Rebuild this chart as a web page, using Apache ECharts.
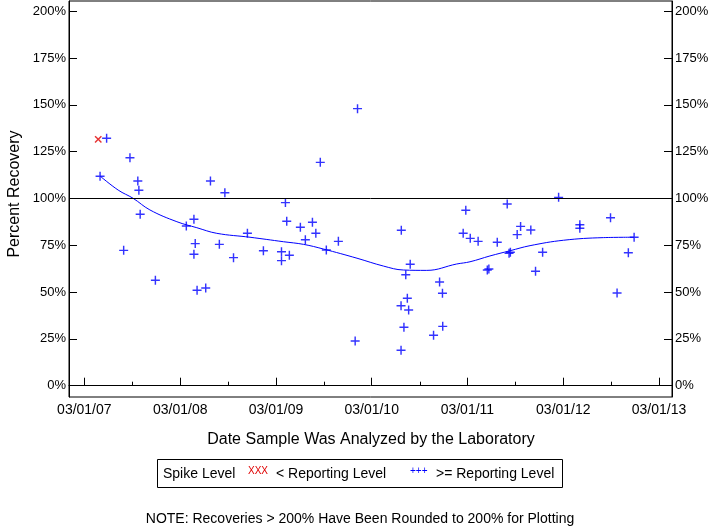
<!DOCTYPE html>
<html>
<head>
<meta charset="utf-8">
<script src="https://cdn.jsdelivr.net/npm/echarts@6/dist/echarts.min.js"></script>
<style>
  html, body { margin: 0; padding: 0; background: #fff; }
  #chart { width: 720px; height: 528px; }
</style>
</head>
<body>
<div id="chart"></div>
<script>
// spike recoveries below the reporting level (red x)
var lowDates = ['2007-04-23'];
var lowValues = [131.6];

// spike recoveries at or above the reporting level (blue +)
var highDates = [
  '2007-04-30', '2007-05-25', '2007-07-29', '2007-08-22', '2007-09-21', '2007-09-25', '2007-09-30', '2007-11-27',
  '2008-03-24', '2008-04-22', '2008-04-22', '2008-04-27', '2008-05-04', '2008-06-06', '2008-06-24', '2008-07-28',
  '2008-08-18', '2008-09-20', '2008-11-12', '2009-01-12', '2009-03-22', '2009-03-22', '2009-04-06', '2009-04-11',
  '2009-04-21', '2009-06-02', '2009-06-21', '2009-07-18', '2009-07-31', '2009-08-17', '2009-09-09', '2009-10-25',
  '2009-12-28', '2010-01-06', '2010-06-21', '2010-06-21', '2010-06-22', '2010-07-02', '2010-07-09', '2010-07-15',
  '2010-07-20', '2010-07-26', '2010-10-23', '2010-11-15', '2010-11-26', '2010-11-27', '2011-02-13', '2011-02-23',
  '2011-03-12', '2011-04-11', '2011-05-16', '2011-05-22', '2011-06-23', '2011-07-31', '2011-08-07', '2011-08-12',
  '2011-09-07', '2011-09-20', '2011-10-29', '2011-11-16', '2011-12-13', '2012-02-12', '2012-05-03', '2012-05-03',
  '2012-08-28', '2012-09-22', '2012-11-04', '2012-11-26'
];
var highValues = [
  111.9, 132.2, 72.3, 121.8, 109.3, 104.4, 91.6, 56.3,
  85.3, 88.9, 70.2, 75.9, 51.0, 52.2, 109.3, 75.5,
  103.1, 68.4, 81.4, 72.1, 71.6, 66.8, 97.8, 87.8,
  69.7, 84.6, 78.0, 87.3, 81.4, 119.3, 72.5, 77.1,
  23.9, 148.0, 18.9, 42.7, 83.0, 31.2, 59.3, 46.7,
  40.4, 64.9, 26.9, 55.4, 49.4, 31.7, 81.4, 93.7,
  78.7, 77.1, 61.8, 62.3, 76.6, 97.1, 70.7, 71.3,
  80.7, 85.1, 83.2, 61.1, 71.3, 100.6, 86.0, 84.1,
  89.7, 49.5, 71.0, 79.3
];

// smoothed trend line
var trendDates = [
  '2007-04-30', '2007-07-08', '2007-09-03', '2007-11-06', '2008-02-17', '2008-05-03', '2008-07-18', '2008-11-22',
  '2009-03-30', '2009-06-14', '2009-08-29', '2010-01-04', '2010-04-15', '2010-06-30', '2010-09-27', '2011-01-19',
  '2011-03-11', '2011-05-26', '2011-08-11', '2011-10-26', '2012-03-02', '2012-08-01', '2012-11-26'
];
var trendValues = [
  112.0, 104.5, 100.1, 93.9, 87.6, 84.4, 81.4, 79.3,
  76.9, 75.5, 73.0, 68.1, 63.9, 61.8, 61.6, 65.0,
  66.2, 69.3, 72.1, 74.8, 77.7, 79.1, 79.3
];

var majorTickDates = ['2007-03-01', '2008-03-01', '2009-03-01', '2010-03-01', '2011-03-01', '2012-03-01', '2013-03-01'];
var minorTickDates = ['2007-09-01', '2008-09-01', '2009-09-01', '2010-09-01', '2011-09-01', '2012-09-01'];
var yTicks = [0, 25, 50, 75, 100, 125, 150, 175, 200];
var referenceLevel = 100;

var FONT = '"Liberation Sans", Arial, sans-serif';

function ts (s) {
  var p = s.split('-');
  return Date.UTC(+p[0], +p[1] - 1, +p[2]);
}
function pad (n) { return (n < 10 ? '0' : '') + n; }
function fmtDate (v) {
  var d = new Date(v);
  return pad(d.getUTCMonth() + 1) + '/' + pad(d.getUTCDate()) + '/' + pad(d.getUTCFullYear() % 100);
}
function pairs (dates, values) {
  return dates.map(function (d, i) { return [ts(d), values[i]]; });
}

var majorTicks = majorTickDates.map(ts);
var minorTicks = minorTickDates.map(ts);
var xMin = Date.UTC(2007, 0, 1, 12);
var xMax = Date.UTC(2013, 3, 19, 12);
var yMin = -6.04, yMax = 205.5;

var plusPath = 'path://M4.2,0H5.8V4.2H10V5.8H5.8V10H4.2V5.8H0V4.2H4.2Z';

function yAxisOf (pos) {
  return {
    type: 'value',
    position: pos,
    min: yMin,
    max: yMax,
    axisLine: { show: true, lineStyle: { color: '#000', width: 1 } },
    axisTick: { show: true, inside: true, length: 8, customValues: yTicks, lineStyle: { color: '#000' } },
    axisLabel: {
      customValues: yTicks,
      formatter: '{value}%',
      color: '#000',
      fontSize: 13,
      fontFamily: FONT,
      margin: 3
    },
    splitLine: { show: false }
  };
}

var chart = echarts.init(document.getElementById('chart'));
chart.setOption({
  animation: false,
  backgroundColor: '#fff',
  grid: { left: 69, right: 48, top: 1, bottom: 131, show: true, borderColor: '#000', borderWidth: 1 },
  xAxis: [
    {
      type: 'value',
      min: xMin,
      max: xMax,
      position: 'bottom',
      axisLine: { show: true, lineStyle: { color: '#000' } },
      axisTick: { show: true, inside: true, length: 8, customValues: majorTicks, lineStyle: { color: '#000' } },
      axisLabel: { customValues: majorTicks, formatter: fmtDate, color: '#000', fontSize: 14, fontFamily: FONT, margin: 6 },
      splitLine: { show: false }
    },
    {
      type: 'value',
      min: xMin,
      max: xMax,
      position: 'bottom',
      axisLine: { show: false },
      axisTick: { show: true, inside: true, length: 4, customValues: minorTicks, lineStyle: { color: '#000' } },
      axisLabel: { show: false },
      splitLine: { show: false }
    }
  ],
  yAxis: [yAxisOf('left'), yAxisOf('right')],
  series: [
    {
      name: 'Trend',
      type: 'line',
      data: pairs(trendDates, trendValues),
      smooth: 0.4,
      showSymbol: false,
      lineStyle: { color: '#0000ff', width: 1 },
      markLine: {
        silent: true,
        symbol: 'none',
        label: { show: false },
        lineStyle: { color: '#000', width: 1, type: 'solid' },
        data: [{ yAxis: referenceLevel }]
      },
      z: 2
    },
    {
      name: '< Reporting Level',
      type: 'scatter',
      data: pairs(lowDates, lowValues),
      symbol: plusPath,
      symbolSize: 9,
      symbolRotate: 45,
      itemStyle: { color: '#e00000' },
      z: 3
    },
    {
      name: '>= Reporting Level',
      type: 'scatter',
      data: pairs(highDates, highValues),
      symbol: plusPath,
      symbolSize: 9,
      itemStyle: { color: '#0000ff' },
      z: 3
    }
  ],
  graphic: [
    {
      type: 'text', x: 15, y: 194, rotation: Math.PI / 2,
      style: { text: 'Percent Recovery', font: '16px ' + FONT, fill: '#000', align: 'center', verticalAlign: 'middle' }
    },
    {
      type: 'text', x: 371, y: 440,
      style: { text: 'Date Sample Was Analyzed by the Laboratory', font: '16px ' + FONT, fill: '#000', align: 'center', verticalAlign: 'middle' }
    },
    {
      type: 'rect', shape: { x: 157.5, y: 459.5, width: 405, height: 28 },
      style: { fill: '#fff', stroke: '#000', lineWidth: 1 }
    },
    {
      type: 'text', x: 163, y: 474,
      style: { text: 'Spike Level', font: '14px ' + FONT, fill: '#000', align: 'left', verticalAlign: 'middle' }
    },
    {
      type: 'text', x: 248, y: 471,
      style: { text: 'XXX', font: '10px ' + FONT, fill: '#e00000', align: 'left', verticalAlign: 'middle' }
    },
    {
      type: 'text', x: 276, y: 474,
      style: { text: '< Reporting Level', font: '14px ' + FONT, fill: '#000', align: 'left', verticalAlign: 'middle' }
    },
    {
      type: 'text', x: 410, y: 471,
      style: { text: '+++', font: '10px ' + FONT, fill: '#0000ff', align: 'left', verticalAlign: 'middle' }
    },
    {
      type: 'text', x: 436, y: 474,
      style: { text: '>= Reporting Level', font: '14px ' + FONT, fill: '#000', align: 'left', verticalAlign: 'middle' }
    },
    {
      type: 'text', x: 360, y: 519,
      style: { text: 'NOTE: Recoveries > 200% Have Been Rounded to 200% for Plotting', font: '14px ' + FONT, fill: '#000', align: 'center', verticalAlign: 'middle' }
    }
  ]
});
</script>
</body>
</html>
